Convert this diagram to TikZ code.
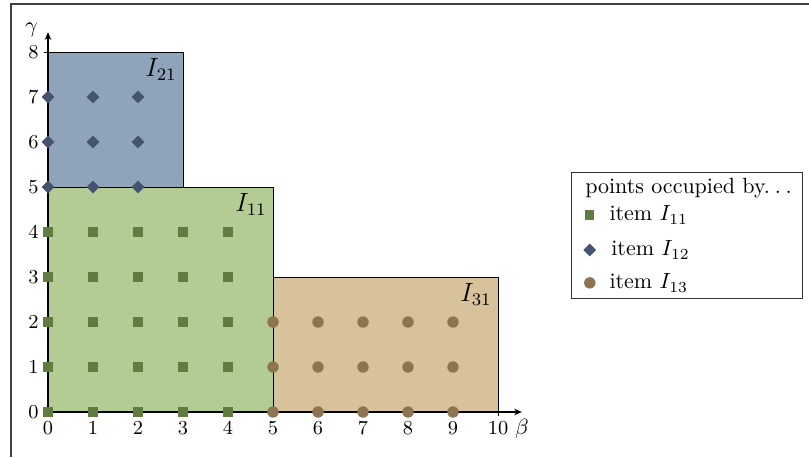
\documentclass[tikz,border=0pt]{standalone}
\usetikzlibrary{shapes.geometric,arrows.meta}
\definecolor{bluefill}{RGB}{143,163,187}
\definecolor{greenfill}{RGB}{179,204,148}
\definecolor{tanfill}{RGB}{216,194,156}
\definecolor{greenmark}{RGB}{95,125,63}
\definecolor{bluemark}{RGB}{69,84,110}
\definecolor{brownmark}{RGB}{140,117,80}
\tikzset{
  region/.style={draw=black, line width=0.4pt},
  sqmark/.style={rectangle, fill=greenmark, inner sep=0pt, minimum size=4.2pt},
  dimark/.style={diamond, fill=bluemark, inner sep=0pt, minimum size=6pt},
  cimark/.style={circle, fill=brownmark, inner sep=0pt, minimum size=5.2pt},
  ticklab/.style={font=\small, inner sep=0pt},
  reglab/.style={anchor=north east, font=\large, inner sep=2.7pt},
  legtext/.style={anchor=west, inner sep=1pt},
}
\begin{document}
\begin{tikzpicture}[x=0.719cm,y=0.719cm]
\useasboundingbox (-1.067,-1.0) rectangle (16.911,9.156);
% frame
\draw[line width=0.8pt, black!75] (-0.822,-1.0) -- (-0.822,9.067) -- (16.911,9.067);
% regions
\draw[region, fill=greenfill] (0,0) rectangle (5,5);
\draw[region, fill=bluefill] (0,5) rectangle (3,8);
\draw[region, fill=tanfill] (5,0) rectangle (10,3);
\node[reglab] (l21) at (3,8) {$I_{21}$};
\node[reglab] (l11) at (5,5) {$I_{11}$};
\node[reglab] (l31) at (10,3) {$I_{31}$};
% axes
\coordinate (o) at (0,0);
\coordinate (xe) at (10.53,0);
\coordinate (ye) at (0,8.44);
\draw[line width=0.5pt, -{Stealth[length=3.5pt,width=3pt]}] (o) -- (xe);
\draw[line width=0.5pt, -{Stealth[length=3.5pt,width=3pt]}] (o) -- (ye);
\node[anchor=base west, inner sep=0pt] (beta) at (10.37,-0.51) {$\beta$};
\node[anchor=base east, inner sep=0pt] (gamma) at (-0.22,8.44) {$\gamma$};
\foreach \i in {0,...,10} {
  \draw[line width=0.4pt] (\i,0) -- (\i,-0.08);
  \node[ticklab, anchor=base] (xt\i) at (\i,-0.51) {\i};
}
\foreach \j in {0,...,8} {
  \draw[line width=0.4pt] (0,\j) -- (-0.08,\j);
  \node[ticklab, anchor=east] (yt\j) at (-0.2,\j) {\j};
}
% points
\foreach \i in {0,...,4} \foreach \j in {0,...,4} \node[sqmark] (s\i\j) at (\i,\j) {};
\foreach \i in {0,...,2} \foreach \j in {5,...,7} \node[dimark] (d\i\j) at (\i,\j) {};
\foreach \i in {5,...,9} \foreach \j in {0,...,2} \node[cimark] (c\i\j) at (\i,\j) {};
% legend
\draw[line width=0.5pt, black!80] (11.64,2.53) rectangle (16.76,5.33);
\node[legtext] (lt) at (11.88,4.98) {points occupied by.\kern2.2pt.\kern2.2pt.};
\node[sqmark] (lm1) at (12.04,4.38) {};
\node[legtext] (lt1) at (12.42,4.38) {item $I_{11}$};
\node[dimark] (lm2) at (12.04,3.60) {};
\node[legtext] (lt2) at (12.46,3.60) {item $I_{12}$};
\node[cimark] (lm3) at (12.04,2.87) {};
\node[legtext] (lt3) at (12.42,2.87) {item $I_{13}$};
\end{tikzpicture}
\end{document}
